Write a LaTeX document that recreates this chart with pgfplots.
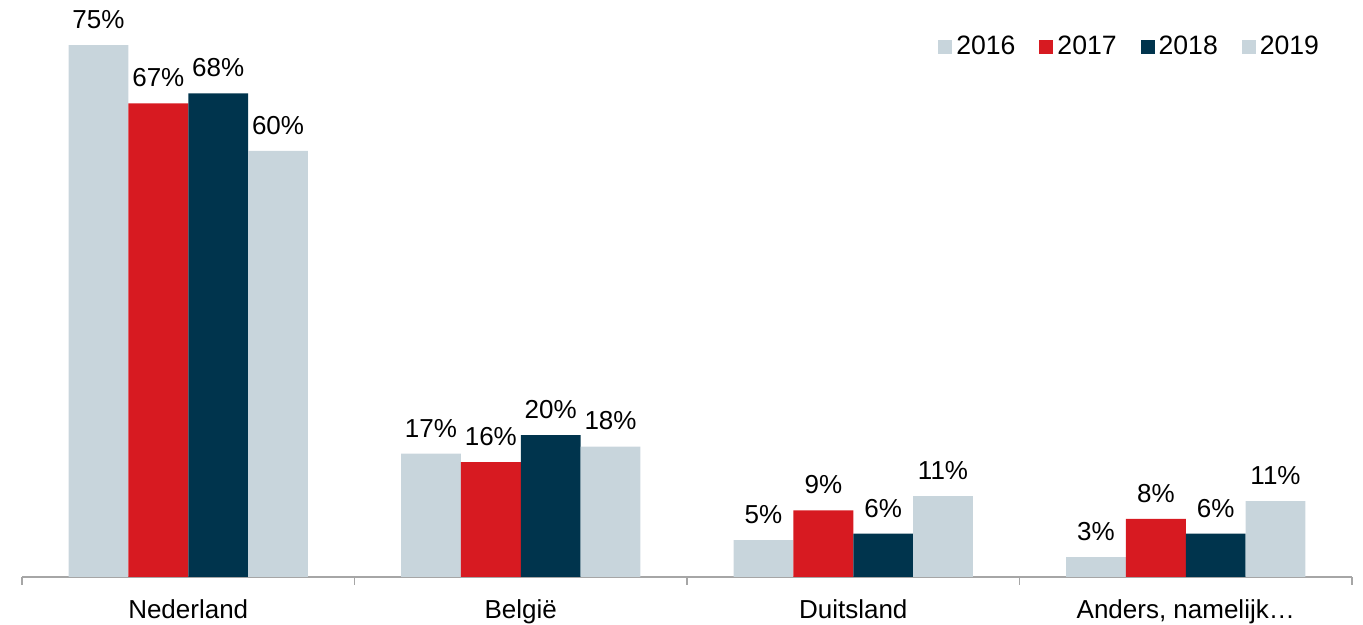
\documentclass[border=0pt]{standalone}
\usepackage{pgfplots}
\pgfplotsset{compat=1.18}
\usepackage{fontspec}
\setmainfont{Liberation Sans}
\definecolor{cgrey}{HTML}{C8D5DC}
\definecolor{cred}{HTML}{D71A21}
\definecolor{cnavy}{HTML}{00344D}
\begin{document}
\fontsize{13}{15.6}\selectfont
\begin{tikzpicture}
\useasboundingbox (-11pt,-24pt) rectangle (670.5pt,288.5pt);
\begin{axis}[
  at={(0,0)}, anchor=south west,
  scale only axis, width=665pt, height=283.6pt,
  ymin=0, ymax=80, xmin=-0.5, xmax=3.5,
  axis y line=none, axis x line*=bottom,
  axis line style={gray!70, line width=0.6pt},
  ybar=0pt, bar width=0.18,
  xtick={0,1,2,3},
  xticklabels={Nederland,België,Duitsland,{Anders, namelijk…}},
  major tick length=0pt,
  extra x ticks={-0.5,0.5,1.5,2.5,3.5},
  extra x tick labels={},
  extra x tick style={major tick length=4pt, tick align=outside, tick style={gray!70, line width=0.6pt}},
  xticklabel style={font=\fontsize{13}{15.6}\selectfont, yshift=-7pt},
  clip=false,
  nodes near coords={\pgfmathprintnumber[fixed,precision=0,assume math mode=true]{\pgfplotspointmeta}\%},
  every node near coord/.append style={font=\fontsize{13}{15.6}\selectfont, anchor=south, inner sep=0pt, yshift=8pt, text=black},
  legend columns=4,
  legend style={draw=none, fill=none, at={(0.983,0.934)}, anchor=east,
    font=\fontsize{13.3}{16}\selectfont,
    /tikz/every even column/.append style={column sep=10pt}},
  legend image code/.code={\fill[#1] (0pt,-3.2pt) rectangle (7pt,3.8pt);},
]
\addplot[fill=cgrey, draw=none] coordinates {(0,75.0) (1,17.4) (2,5.2) (3,2.8)};
\addplot[fill=cred, draw=none] coordinates {(0,66.8) (1,16.2) (2,9.4) (3,8.2)};
\addplot[fill=cnavy, draw=none] coordinates {(0,68.2) (1,20.0) (2,6.1) (3,6.1)};
\addplot[fill=cgrey, draw=none] coordinates {(0,60.1) (1,18.4) (2,11.4) (3,10.7)};
\legend{2016,2017,2018,2019}
\end{axis}
\end{tikzpicture}
\end{document}
